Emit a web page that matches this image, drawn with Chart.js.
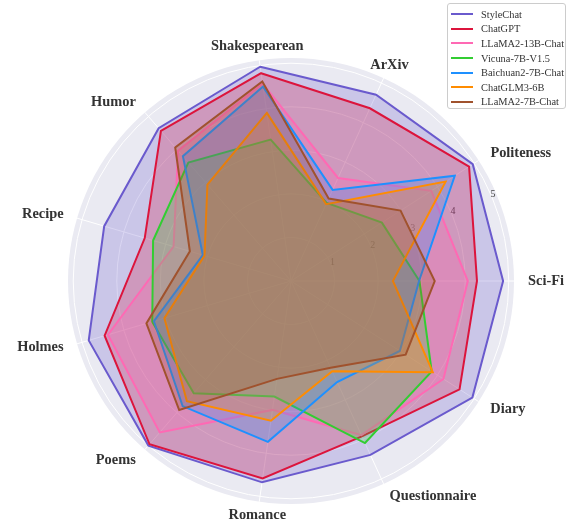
<!DOCTYPE html>
<html>
<head>
<meta charset="utf-8">
<script src="https://cdn.jsdelivr.net/npm/chart.js@4.4.0/dist/chart.umd.min.js"></script>
<style>
  body { margin: 0; background: #fff; }
  #wrap { position: relative; width: 571px; height: 522px; }
  #legend {
    position: absolute; left: 447px; top: 3px; width: 119px; height: 106px;
    border: 1px solid #ccc; border-radius: 3px; background: rgba(255,255,255,0.85);
    font-family: "Liberation Serif", "Times New Roman", serif; font-size: 10.4px; color: #333;
    padding-top: 3px; box-sizing: border-box;
  }
  #legend .row { display: flex; align-items: center; height: 14.6px; }
  #legend .sw { width: 22px; height: 2px; margin-left: 3px; margin-right: 8px; }
</style>
</head>
<body>
<div id="wrap">
  <canvas id="radar" width="571" height="522"></canvas>
  <div id="legend"></div>
</div>
<script>
// categories, clockwise from the top
const categories = ['Shakespearean', 'ArXiv', 'Politeness', 'Sci-Fi', 'Diary', 'Questionnaire',
                    'Romance', 'Poems', 'Holmes', 'Recipe', 'Humor'];
const tickValues = [1, 2, 3, 4, 5];

const models = ['StyleChat', 'ChatGPT', 'LLaMA2-13B-Chat', 'Vicuna-7B-V1.5',
                'Baichuan2-7B-Chat', 'ChatGLM3-6B', 'LLaMA2-7B-Chat'];

// scores
const styleChat = [4.97, 4.70, 4.96, 4.87, 4.95, 4.39, 4.67, 5.00, 4.84, 4.47, 4.64];
const chatGPT   = [4.82, 4.36, 4.86, 4.27, 4.60, 3.92, 4.58, 4.96, 4.46, 3.50, 4.56];
const llama13b  = [4.58, 2.60, 3.83, 4.06, 4.16, 3.89, 2.99, 4.60, 4.38, 2.81, 3.96];
const vicuna    = [3.28, 1.97, 2.48, 2.95, 3.84, 4.09, 2.68, 3.41, 3.32, 3.30, 3.60];
const baichuan  = [4.51, 2.30, 4.47, 2.94, 2.97, 2.55, 3.73, 3.80, 3.28, 2.11, 3.79];
const chatglm   = [3.90, 1.94, 4.22, 2.34, 3.87, 2.28, 3.24, 3.65, 3.03, 2.07, 2.93];
const llama7b   = [4.63, 2.08, 2.99, 3.30, 3.13, 2.19, 2.27, 3.92, 3.46, 2.42, 4.06];

const series = [styleChat, chatGPT, llama13b, vicuna, baichuan, chatglm, llama7b];
const colors = ['106,90,205', '220,20,60', '255,105,180', '50,205,50',
                '30,144,255', '255,140,0', '160,82,45'];

const datasets = models.map(function (name, i) {
  return {
    label: name,
    data: series[i],
    borderColor: 'rgb(' + colors[i] + ')',
    backgroundColor: 'rgba(' + colors[i] + ',0.25)',
    borderWidth: 2,
    pointRadius: 0,
    fill: true,
    order: models.length - 1 - i   // later models drawn on top
  };
});

// tick numbers sit along a ray to the upper right, under the fills
const tickLabels = {
  id: 'tickLabels',
  beforeDatasetsDraw(chart) {
    const s = chart.scales.r;
    const ctx = chart.ctx;
    const a = 22.9 * Math.PI / 180;
    ctx.save();
    ctx.font = '10px "Liberation Serif", serif';
    ctx.fillStyle = '#444';
    ctx.textAlign = 'center';
    ctx.textBaseline = 'middle';
    tickValues.forEach(function (v) {
      const d = s.getDistanceFromCenterForValue(v);
      ctx.fillText(String(v), s.xCenter + 1.5 + d * Math.cos(a), s.yCenter - 1.5 - d * Math.sin(a));
    });
    ctx.restore();
  }
};

// category names around the disc
const categoryLabels = {
  id: 'categoryLabels',
  afterDraw(chart) {
    const s = chart.scales.r;
    const ctx = chart.ctx;
    ctx.save();
    ctx.font = 'bold 14.4px "Liberation Serif", serif';
    ctx.fillStyle = '#333';
    ctx.textBaseline = 'middle';
    categories.forEach(function (name, i) {
      const p = s.getPointPosition(i, s.drawingArea + 14);
      const c = Math.cos(p.angle);
      const up = Math.sin(p.angle) < 0;
      if (Math.abs(c) < 0.2 || (up && Math.abs(c) < 0.5)) ctx.textAlign = 'center';
      else ctx.textAlign = c > 0 ? 'left' : 'right';
      ctx.fillText(name, p.x, p.y);
    });
    ctx.restore();
  }
};

const chart = new Chart(document.getElementById('radar'), {
  type: 'radar',
  data: { labels: categories, datasets: datasets },
  options: {
    responsive: false,
    animation: false,
    layout: { padding: { left: 68, top: 58, right: 56, bottom: 17 } },
    elements: { line: { tension: 0, borderJoinStyle: 'miter' } },
    scales: {
      r: {
        min: 0,
        max: 5.12,
        startAngle: -8.18,
        backgroundColor: '#EAEAF2',
        grid: { circular: true, color: '#ffffff', lineWidth: 1 },
        angleLines: { color: '#ffffff', lineWidth: 1 },
        ticks: { display: false, stepSize: 1, includeBounds: false },
        pointLabels: { display: false }
      }
    },
    plugins: {
      legend: { display: false },
      tooltip: { enabled: false }
    }
  },
  plugins: [tickLabels, categoryLabels]
});

// legend box in the top right corner
const legend = document.getElementById('legend');
chart.data.datasets.forEach(function (ds) {
  const row = document.createElement('div');
  row.className = 'row';
  const sw = document.createElement('span');
  sw.className = 'sw';
  sw.style.background = ds.borderColor;
  const txt = document.createElement('span');
  txt.textContent = ds.label;
  row.appendChild(sw);
  row.appendChild(txt);
  legend.appendChild(row);
});
</script>
</body>
</html>
